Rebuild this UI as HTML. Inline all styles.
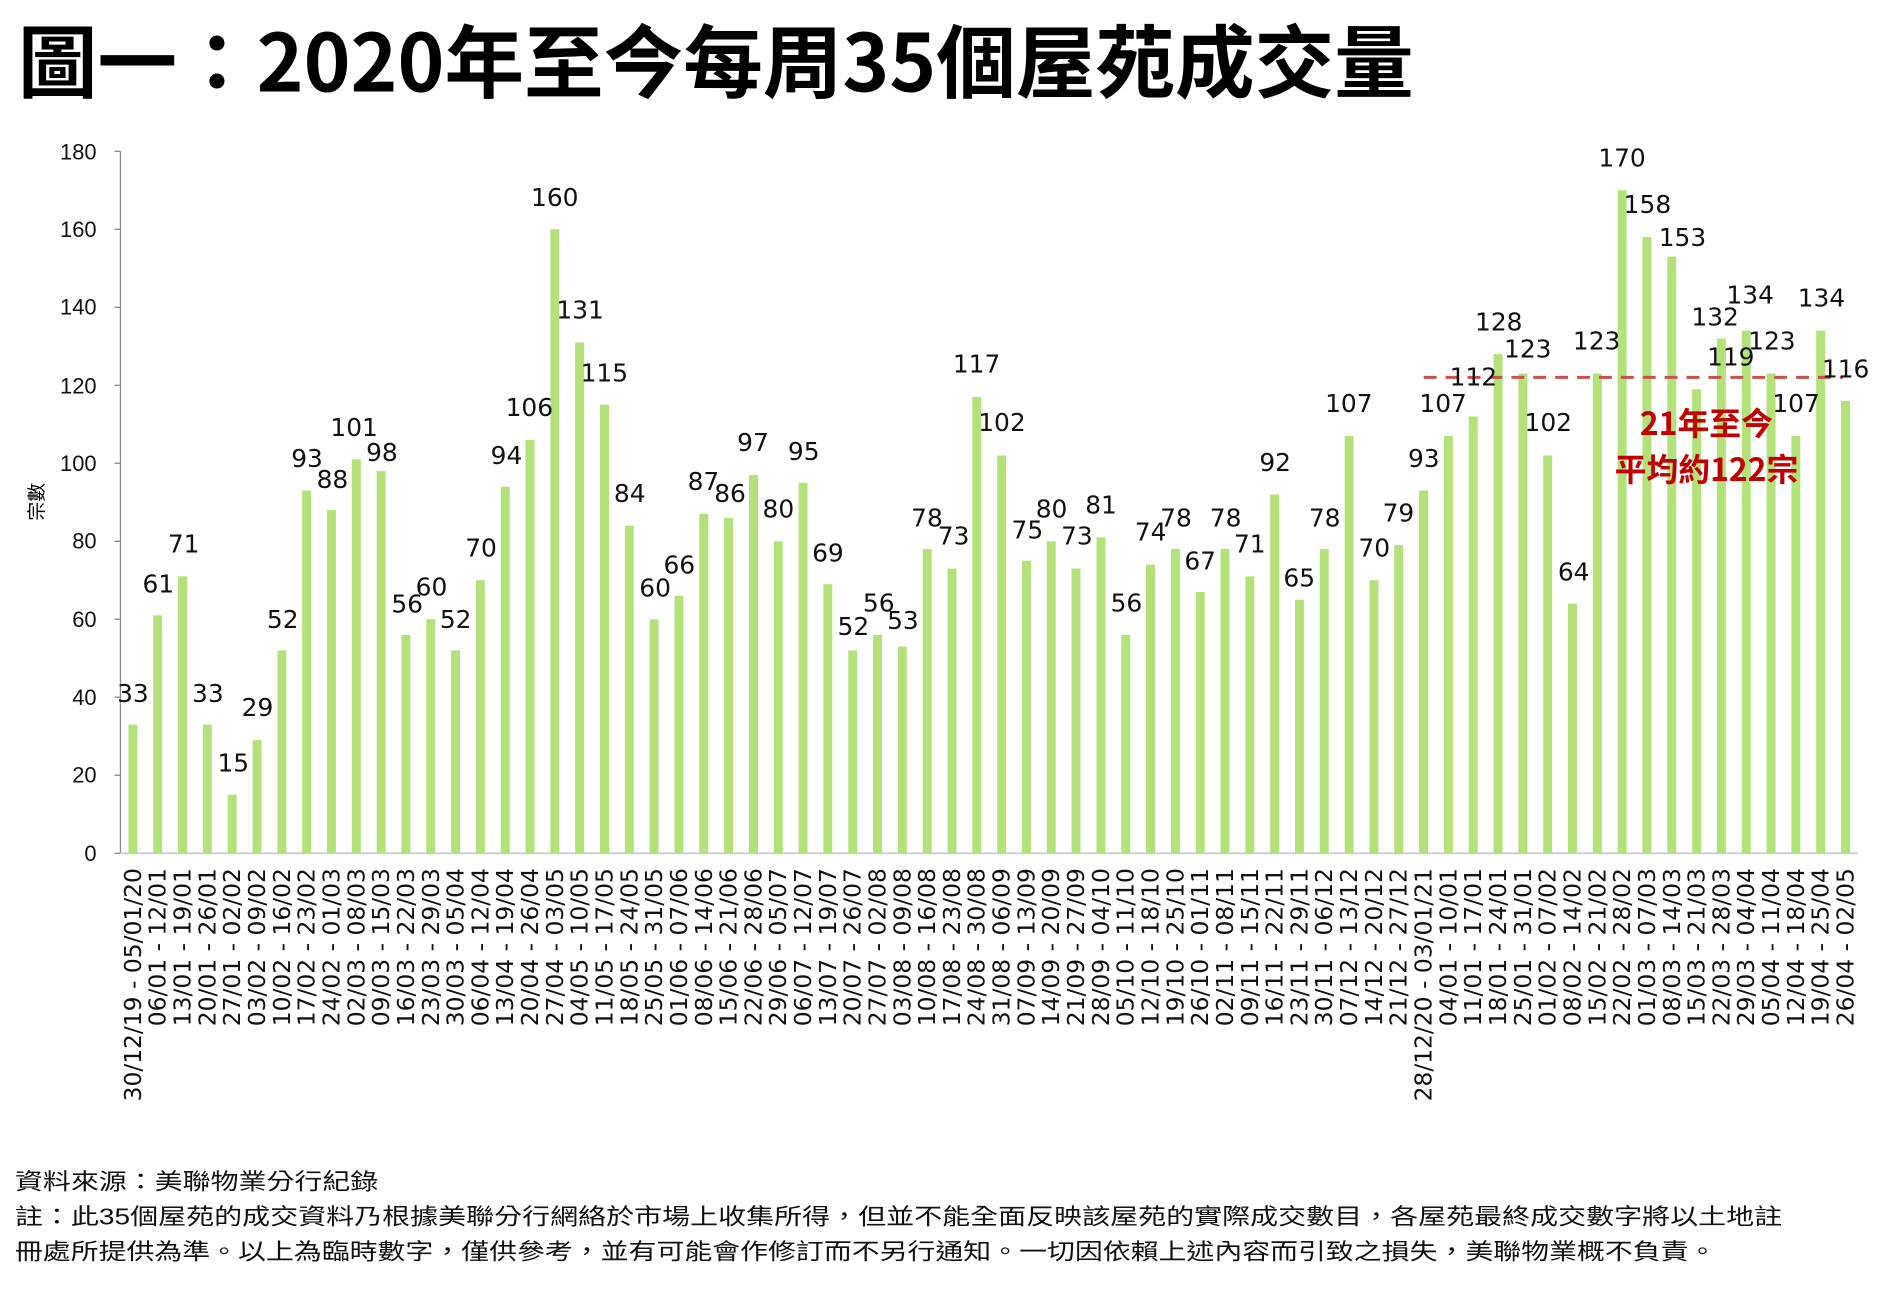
<!DOCTYPE html>
<html><head><meta charset="utf-8"><style>html,body{margin:0;padding:0;background:#fff}svg{display:block}</style></head>
<body>
<svg width="1894" height="1296" viewBox="0 0 1894 1296" xmlns="http://www.w3.org/2000/svg">
<g transform="scale(0.9956)">
<text x="18" y="92" font-family="'Noto Sans CJK TC',sans-serif" font-weight="bold" font-size="80" textLength="1402" lengthAdjust="spacingAndGlyphs">圖一：2020年至今每周35個屋苑成交量</text>
<g stroke="#888" stroke-width="1.3">
<line x1="121" y1="152" x2="121" y2="857"/>
<line x1="115" y1="152" x2="121" y2="152"/><line x1="115" y1="230.3" x2="121" y2="230.3"/><line x1="115" y1="308.7" x2="121" y2="308.7"/><line x1="115" y1="387" x2="121" y2="387"/><line x1="115" y1="465.3" x2="121" y2="465.3"/><line x1="115" y1="543.7" x2="121" y2="543.7"/><line x1="115" y1="622" x2="121" y2="622"/><line x1="115" y1="700.3" x2="121" y2="700.3"/><line x1="115" y1="778.7" x2="121" y2="778.7"/><line x1="115" y1="857" x2="121" y2="857"/>
</g>
<line x1="121" y1="857" x2="1866" y2="857" stroke="#d0d0d0" stroke-width="2"/>
<g font-family="'Liberation Sans',sans-serif" font-size="22" text-anchor="end" fill="#111">
<text x="97" y="160">180</text><text x="97" y="238">160</text><text x="97" y="316">140</text><text x="97" y="395">120</text><text x="97" y="473">100</text><text x="97" y="551">80</text><text x="97" y="630">60</text><text x="97" y="708">40</text><text x="97" y="786">20</text><text x="97" y="865">0</text>
</g>
<text transform="translate(43,504) rotate(-90)" text-anchor="middle" font-family="'Noto Sans CJK TC',sans-serif" font-size="19">宗數</text>
<g fill="#b3e27a" transform="translate(0,857) scale(1,-3.917)">
<rect x="129" y="0" width="9" height="33"/><rect x="153.9" y="0" width="9" height="61"/><rect x="178.9" y="0" width="9" height="71"/><rect x="203.8" y="0" width="9" height="33"/><rect x="228.7" y="0" width="9" height="15"/><rect x="253.7" y="0" width="9" height="29"/><rect x="278.6" y="0" width="9" height="52"/><rect x="303.5" y="0" width="9" height="93"/><rect x="328.4" y="0" width="9" height="88"/><rect x="353.4" y="0" width="9" height="101"/>
<rect x="378.3" y="0" width="9" height="98"/><rect x="403.2" y="0" width="9" height="56"/><rect x="428.2" y="0" width="9" height="60"/><rect x="453.1" y="0" width="9" height="52"/><rect x="478" y="0" width="9" height="70"/><rect x="503" y="0" width="9" height="94"/><rect x="527.9" y="0" width="9" height="106"/><rect x="552.8" y="0" width="9" height="160"/><rect x="577.7" y="0" width="9" height="131"/><rect x="602.7" y="0" width="9" height="115"/>
<rect x="627.6" y="0" width="9" height="84"/><rect x="652.5" y="0" width="9" height="60"/><rect x="677.5" y="0" width="9" height="66"/><rect x="702.4" y="0" width="9" height="87"/><rect x="727.3" y="0" width="9" height="86"/><rect x="752.3" y="0" width="9" height="97"/><rect x="777.2" y="0" width="9" height="80"/><rect x="802.1" y="0" width="9" height="95"/><rect x="827" y="0" width="9" height="69"/><rect x="852" y="0" width="9" height="52"/>
<rect x="876.9" y="0" width="9" height="56"/><rect x="901.8" y="0" width="9" height="53"/><rect x="926.8" y="0" width="9" height="78"/><rect x="951.7" y="0" width="9" height="73"/><rect x="976.6" y="0" width="9" height="117"/><rect x="1001.6" y="0" width="9" height="102"/><rect x="1026.5" y="0" width="9" height="75"/><rect x="1051.4" y="0" width="9" height="80"/><rect x="1076.3" y="0" width="9" height="73"/><rect x="1101.3" y="0" width="9" height="81"/>
<rect x="1126.2" y="0" width="9" height="56"/><rect x="1151.1" y="0" width="9" height="74"/><rect x="1176.1" y="0" width="9" height="78"/><rect x="1201" y="0" width="9" height="67"/><rect x="1225.9" y="0" width="9" height="78"/><rect x="1250.9" y="0" width="9" height="71"/><rect x="1275.8" y="0" width="9" height="92"/><rect x="1300.7" y="0" width="9" height="65"/><rect x="1325.6" y="0" width="9" height="78"/><rect x="1350.6" y="0" width="9" height="107"/>
<rect x="1375.5" y="0" width="9" height="70"/><rect x="1400.4" y="0" width="9" height="79"/><rect x="1425.4" y="0" width="9" height="93"/><rect x="1450.3" y="0" width="9" height="107"/><rect x="1475.2" y="0" width="9" height="112"/><rect x="1500.2" y="0" width="9" height="128"/><rect x="1525.1" y="0" width="9" height="123"/><rect x="1550" y="0" width="9" height="102"/><rect x="1574.9" y="0" width="9" height="64"/><rect x="1599.9" y="0" width="9" height="123"/>
<rect x="1624.8" y="0" width="9" height="170"/><rect x="1649.7" y="0" width="9" height="158"/><rect x="1674.7" y="0" width="9" height="153"/><rect x="1699.6" y="0" width="9" height="119"/><rect x="1724.5" y="0" width="9" height="132"/><rect x="1749.5" y="0" width="9" height="134"/><rect x="1774.4" y="0" width="9" height="123"/><rect x="1799.3" y="0" width="9" height="107"/><rect x="1824.2" y="0" width="9" height="134"/><rect x="1849.2" y="0" width="9" height="116"/>
</g>
<line x1="1430" y1="379" x2="1851" y2="379" stroke="#c9504d" stroke-width="3" stroke-dasharray="13,9"/>
<g font-family="'DejaVu Sans',sans-serif" font-size="25" text-anchor="middle" fill="#111">
<text x="133.5" y="705">33</text><text x="159" y="595">61</text><text x="184.5" y="555">71</text><text x="208.8" y="705">33</text><text x="234.3" y="775">15</text><text x="258.6" y="719">29</text><text x="284" y="631">52</text><text x="308.4" y="469">93</text><text x="333.9" y="490">88</text><text x="355.7" y="438">101</text>
<text x="383.6" y="463">98</text><text x="409" y="615">56</text><text x="433.4" y="598">60</text><text x="457.7" y="631">52</text><text x="483.2" y="559">70</text><text x="508.7" y="466">94</text><text x="531.7" y="418">106</text><text x="557.2" y="207">160</text><text x="582.7" y="320">131</text><text x="607" y="383">115</text>
<text x="632.5" y="504">84</text><text x="658" y="599">60</text><text x="682.3" y="576">66</text><text x="706.5" y="492">87</text><text x="733.3" y="504">86</text><text x="756.3" y="453">97</text><text x="781.8" y="520">80</text><text x="807.3" y="462">95</text><text x="831.6" y="564">69</text><text x="857.1" y="638">52</text>
<text x="882.6" y="614">56</text><text x="906.9" y="632">53</text><text x="931.1" y="529">78</text><text x="957.8" y="547">73</text><text x="980.9" y="374">117</text><text x="1006.4" y="433">102</text><text x="1031.9" y="541">75</text><text x="1056.2" y="520">80</text><text x="1081.7" y="547">73</text><text x="1105.9" y="516">81</text>
<text x="1131.4" y="614">56</text><text x="1155.7" y="543">74</text><text x="1181.2" y="529">78</text><text x="1205.5" y="572">67</text><text x="1231" y="529">78</text><text x="1255.3" y="555">71</text><text x="1280.8" y="473">92</text><text x="1305" y="589">65</text><text x="1330.5" y="529">78</text><text x="1354.8" y="414">107</text>
<text x="1380.3" y="559">70</text><text x="1404.6" y="524">79</text><text x="1430.1" y="469">93</text><text x="1449.5" y="414">107</text><text x="1479.9" y="387">112</text><text x="1505.4" y="332">128</text><text x="1534.5" y="359">123</text><text x="1555.1" y="433">102</text><text x="1580.6" y="583">64</text><text x="1603.7" y="351">123</text>
<text x="1629.2" y="167">170</text><text x="1654.7" y="214">158</text><text x="1689.9" y="247">153</text><text x="1738.4" y="367">119</text><text x="1722.7" y="327">132</text><text x="1757.9" y="305">134</text><text x="1779.7" y="351">123</text><text x="1804" y="414">107</text><text x="1829.5" y="308">134</text><text x="1853.8" y="379">116</text>
</g>
<g font-family="'Noto Sans CJK TC',sans-serif" font-size="32" font-weight="bold" fill="#c00000" text-anchor="middle">
<text x="1714" y="437">21年至今</text>
<text x="1714" y="483">平均約122宗</text>
</g>
<g font-family="'DejaVu Sans',sans-serif" font-size="23.5" text-anchor="end" fill="#111">
<text transform="translate(141.5,872) rotate(-90)">30/12/19 - 05/01/20</text>
<text transform="translate(166.4,872) rotate(-90)">06/01 - 12/01</text>
<text transform="translate(191.4,872) rotate(-90)">13/01 - 19/01</text>
<text transform="translate(216.3,872) rotate(-90)">20/01 - 26/01</text>
<text transform="translate(241.2,872) rotate(-90)">27/01 - 02/02</text>
<text transform="translate(266.2,872) rotate(-90)">03/02 - 09/02</text>
<text transform="translate(291.1,872) rotate(-90)">10/02 - 16/02</text>
<text transform="translate(316,872) rotate(-90)">17/02 - 23/02</text>
<text transform="translate(340.9,872) rotate(-90)">24/02 - 01/03</text>
<text transform="translate(365.9,872) rotate(-90)">02/03 - 08/03</text>
<text transform="translate(390.8,872) rotate(-90)">09/03 - 15/03</text>
<text transform="translate(415.7,872) rotate(-90)">16/03 - 22/03</text>
<text transform="translate(440.7,872) rotate(-90)">23/03 - 29/03</text>
<text transform="translate(465.6,872) rotate(-90)">30/03 - 05/04</text>
<text transform="translate(490.5,872) rotate(-90)">06/04 - 12/04</text>
<text transform="translate(515.5,872) rotate(-90)">13/04 - 19/04</text>
<text transform="translate(540.4,872) rotate(-90)">20/04 - 26/04</text>
<text transform="translate(565.3,872) rotate(-90)">27/04 - 03/05</text>
<text transform="translate(590.2,872) rotate(-90)">04/05 - 10/05</text>
<text transform="translate(615.2,872) rotate(-90)">11/05 - 17/05</text>
<text transform="translate(640.1,872) rotate(-90)">18/05 - 24/05</text>
<text transform="translate(665,872) rotate(-90)">25/05 - 31/05</text>
<text transform="translate(690,872) rotate(-90)">01/06 - 07/06</text>
<text transform="translate(714.9,872) rotate(-90)">08/06 - 14/06</text>
<text transform="translate(739.8,872) rotate(-90)">15/06 - 21/06</text>
<text transform="translate(764.8,872) rotate(-90)">22/06 - 28/06</text>
<text transform="translate(789.7,872) rotate(-90)">29/06 - 05/07</text>
<text transform="translate(814.6,872) rotate(-90)">06/07 - 12/07</text>
<text transform="translate(839.5,872) rotate(-90)">13/07 - 19/07</text>
<text transform="translate(864.5,872) rotate(-90)">20/07 - 26/07</text>
<text transform="translate(889.4,872) rotate(-90)">27/07 - 02/08</text>
<text transform="translate(914.3,872) rotate(-90)">03/08 - 09/08</text>
<text transform="translate(939.3,872) rotate(-90)">10/08 - 16/08</text>
<text transform="translate(964.2,872) rotate(-90)">17/08 - 23/08</text>
<text transform="translate(989.1,872) rotate(-90)">24/08 - 30/08</text>
<text transform="translate(1014.1,872) rotate(-90)">31/08 - 06/09</text>
<text transform="translate(1039,872) rotate(-90)">07/09 - 13/09</text>
<text transform="translate(1063.9,872) rotate(-90)">14/09 - 20/09</text>
<text transform="translate(1088.8,872) rotate(-90)">21/09 - 27/09</text>
<text transform="translate(1113.8,872) rotate(-90)">28/09 - 04/10</text>
<text transform="translate(1138.7,872) rotate(-90)">05/10 - 11/10</text>
<text transform="translate(1163.6,872) rotate(-90)">12/10 - 18/10</text>
<text transform="translate(1188.6,872) rotate(-90)">19/10 - 25/10</text>
<text transform="translate(1213.5,872) rotate(-90)">26/10 - 01/11</text>
<text transform="translate(1238.4,872) rotate(-90)">02/11 - 08/11</text>
<text transform="translate(1263.4,872) rotate(-90)">09/11 - 15/11</text>
<text transform="translate(1288.3,872) rotate(-90)">16/11 - 22/11</text>
<text transform="translate(1313.2,872) rotate(-90)">23/11 - 29/11</text>
<text transform="translate(1338.1,872) rotate(-90)">30/11 - 06/12</text>
<text transform="translate(1363.1,872) rotate(-90)">07/12 - 13/12</text>
<text transform="translate(1388,872) rotate(-90)">14/12 - 20/12</text>
<text transform="translate(1412.9,872) rotate(-90)">21/12 - 27/12</text>
<text transform="translate(1437.9,872) rotate(-90)">28/12/20 - 03/01/21</text>
<text transform="translate(1462.8,872) rotate(-90)">04/01 - 10/01</text>
<text transform="translate(1487.7,872) rotate(-90)">11/01 - 17/01</text>
<text transform="translate(1512.7,872) rotate(-90)">18/01 - 24/01</text>
<text transform="translate(1537.6,872) rotate(-90)">25/01 - 31/01</text>
<text transform="translate(1562.5,872) rotate(-90)">01/02 - 07/02</text>
<text transform="translate(1587.4,872) rotate(-90)">08/02 - 14/02</text>
<text transform="translate(1612.4,872) rotate(-90)">15/02 - 21/02</text>
<text transform="translate(1637.3,872) rotate(-90)">22/02 - 28/02</text>
<text transform="translate(1662.2,872) rotate(-90)">01/03 - 07/03</text>
<text transform="translate(1687.2,872) rotate(-90)">08/03 - 14/03</text>
<text transform="translate(1712.1,872) rotate(-90)">15/03 - 21/03</text>
<text transform="translate(1737,872) rotate(-90)">22/03 - 28/03</text>
<text transform="translate(1762,872) rotate(-90)">29/03 - 04/04</text>
<text transform="translate(1786.9,872) rotate(-90)">05/04 - 11/04</text>
<text transform="translate(1811.8,872) rotate(-90)">12/04 - 18/04</text>
<text transform="translate(1836.7,872) rotate(-90)">19/04 - 25/04</text>
<text transform="translate(1861.7,872) rotate(-90)">26/04 - 02/05</text>
</g>
<g font-family="'Liberation Sans','Noto Sans CJK TC',sans-serif" font-size="23" fill="#111">
<text x="15" y="1195" textLength="365" lengthAdjust="spacingAndGlyphs">資料來源：美聯物業分行紀錄</text>
<text x="15" y="1230" textLength="1775" lengthAdjust="spacingAndGlyphs">註：此35個屋苑的成交資料乃根據美聯分行網絡於市場上收集所得，但並不能全面反映該屋苑的實際成交數目，各屋苑最終成交數字將以土地註</text>
<text x="15" y="1265" textLength="1709" lengthAdjust="spacingAndGlyphs">冊處所提供為準。以上為臨時數字，僅供參考，並有可能會作修訂而不另行通知。一切因依賴上述內容而引致之損失，美聯物業概不負責。</text>
</g>
</g>
</svg>
</body></html>
